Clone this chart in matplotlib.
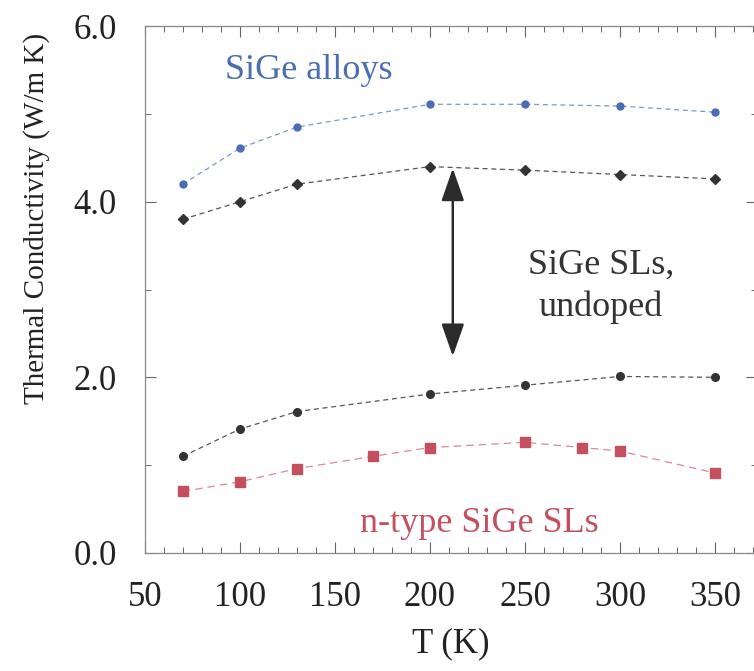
import matplotlib
matplotlib.use("Agg")
import matplotlib.pyplot as plt
from matplotlib.ticker import MultipleLocator, FormatStrFormatter

# values
t_alloy = [70, 100, 130, 200, 250, 300, 350]
k_alloy = [4.2, 4.61, 4.85, 5.11, 5.11, 5.09, 5.02]

t_sl_hi = [70, 100, 130, 200, 250, 300, 350]
k_sl_hi = [3.8, 4.0, 4.2, 4.4, 4.36, 4.31, 4.26]

t_sl_lo = [70, 100, 130, 200, 250, 300, 350]
k_sl_lo = [1.1, 1.41, 1.61, 1.81, 1.91, 2.01, 2.0]

t_ntype = [70, 100, 130, 170, 200, 250, 280, 300, 350]
k_ntype = [0.7, 0.81, 0.96, 1.1, 1.2, 1.26, 1.2, 1.16, 0.91]

blue = "#4a6db3"
dark = "#333333"
red = "#c4505f"

plt.rcParams["font.family"] = ["Liberation Serif", "DejaVu Serif"]

fig = plt.figure(figsize=(7.54, 6.71), dpi=100)
ax = fig.add_axes([0.192, 0.176, 0.812, 0.785])

ax.plot(t_alloy, k_alloy, "--", color="#7f96c8", lw=0.9, dashes=(4, 3))
ax.plot(t_alloy, k_alloy, "o", color=blue, ms=5)

ax.plot(t_sl_hi, k_sl_hi, "--", color="#555555", lw=0.9, dashes=(4, 3))
ax.plot(t_sl_hi, k_sl_hi, "D", color=dark, ms=5)

ax.plot(t_sl_lo, k_sl_lo, "--", color="#555555", lw=0.9, dashes=(4, 3))
ax.plot(t_sl_lo, k_sl_lo, "o", color=dark, ms=5.5)

ax.plot(t_ntype, k_ntype, "--", color="#d88a94", lw=0.9, dashes=(6, 4))
ax.plot(t_ntype, k_ntype, "s", color=red, ms=7)

# double arrow between the two undoped SL curves
ax.annotate("", xy=(212, 4.38), xytext=(212, 2.24),
            arrowprops=dict(arrowstyle="<|-|>,head_length=1.0,head_width=0.35",
                            color="#2b2b2b", lw=1.8,
                            mutation_scale=20, shrinkA=0, shrinkB=0))

ax.text(92, 5.5, "SiGe alloys", color=blue, fontsize=26, va="center")
ax.text(290, 3.28, "SiGe SLs,", color=dark, fontsize=26, ha="center", va="center")
ax.text(290, 2.8, "undoped", color=dark, fontsize=26, ha="center", va="center")
ax.text(226, 0.34, "n-type SiGe SLs", color=red, fontsize=26, ha="center", va="center")

ax.set_xlim(50, 372)
ax.set_ylim(0, 6)
ax.xaxis.set_major_locator(MultipleLocator(50))
ax.xaxis.set_minor_locator(MultipleLocator(10))
ax.yaxis.set_major_locator(MultipleLocator(2))
ax.yaxis.set_minor_locator(MultipleLocator(1))
ax.yaxis.set_major_formatter(FormatStrFormatter("%.1f"))

ax.tick_params(which="both", direction="in", top=True, right=True,
               colors="#666666", labelcolor="#222222", labelsize=25, pad=20)
ax.tick_params(which="major", length=8, width=0.8)
ax.tick_params(which="minor", length=4, width=0.7)
for s in ax.spines.values():
    s.set_color("#888888")
    s.set_linewidth(0.9)

ax.set_xlabel("T (K)", fontsize=25, color="#222222", labelpad=10)
ax.set_ylabel("Thermal Conductivity (W/m K)", fontsize=21, color="#222222")
ax.yaxis.set_label_coords(-0.155, 0.635)

fig.savefig("out.png", dpi=100, facecolor="white")
